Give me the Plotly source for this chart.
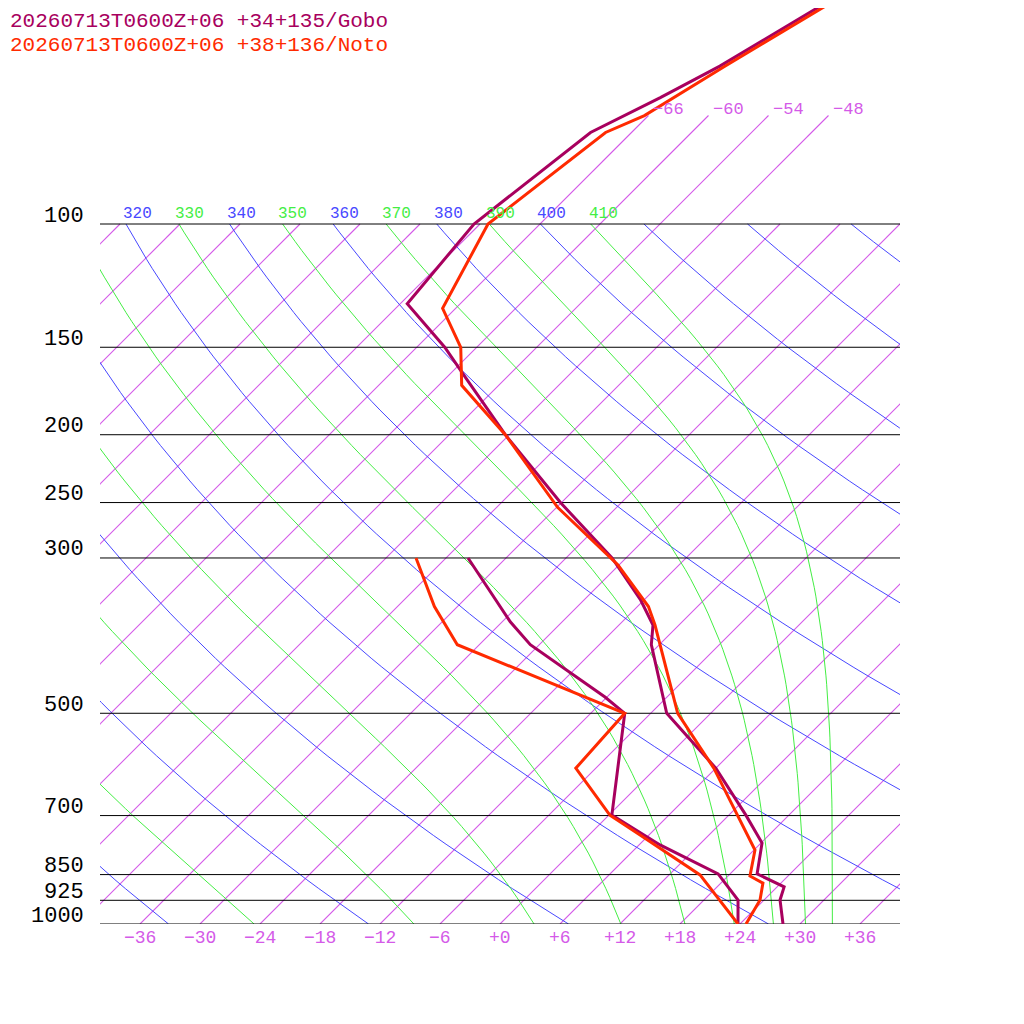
import numpy as np
import plotly.graph_objects as go

# Soundings (pressure hPa, temperature degC)
gobo_p = [1000, 924, 885, 848, 766, 699, 599, 500, 399, 374, 344, 300, 250, 200, 166, 150, 130, 100, 74, 66, 59.5, 48]
gobo_t = [28.3, 25.6, 24.7, 20.7, 18.1, 13.7, 6.0, -4.4, -12.8, -14.6, -18.4, -25.4, -36.1, -48.4, -58.0, -63.2, -71.3, -72.6, -70.1, -66.6, -63.8, -59.4]
gobo_dp = [1000, 924, 848, 771, 699, 500, 474, 399, 370, 300]
gobo_td = [23.8, 21.4, 16.8, 8.1, 0.3, -8.6, -12.2, -24.9, -29.2, -39.8]

noto_p = [1000, 924, 874, 854, 784, 599, 500, 374, 352, 307, 254, 200, 170, 150, 132, 100, 74, 70, 59.5, 48]
noto_t = [24.6, 23.6, 22.2, 20.2, 18.1, 5.8, -3.3, -14.4, -16.9, -24.1, -35.9, -48.4, -57.7, -61.6, -67.3, -71.2, -68.6, -66.4, -63.3, -58.9]
noto_dp = [1000, 851, 746, 699, 599, 500, 399, 352, 300]
noto_td = [23.8, 15.1, 5.1, 0.1, -8.0, -8.6, -32.2, -38.3, -45.0]

isobars = [100, 150, 200, 250, 300, 500, 700, 850, 925, 1000]
bottom_ticks = [-36, -30, -24, -18, -12, -6, 0, 6, 12, 18, 24, 30, 36]
isotherms = list(range(-120, 40, 6))
upper_isotherms = [-66, -60, -54, -48]
dry_thetas = list(range(200, 620, 20))
dry_labels = [320, 340, 360, 380, 400]
moist_thetas = list(range(250, 430, 20))
moist_labels = [310, 330, 350, 370, 390, 410]

SKEW = 70.0
MAG = "rgb(212,90,232)"
BLUE = "#4848ff"
GREEN = "#44ee44"
GOBO = "#a8005e"
NOTO = "#ff2a00"
MONO = "Liberation Mono"

def X(t, p):
    return np.asarray(t, float) + SKEW * np.log10(1000.0 / np.asarray(p, float))

fig = go.Figure()
def line(x, y, color, w=1.0):
    fig.add_trace(go.Scatter(x=list(x), y=list(y), mode="lines", line=dict(color=color, width=w),
                             hoverinfo="skip", showlegend=False))

pp = np.logspace(3, 2, 80)
for T in isotherms:
    ptop = 10 ** (3 - 1.155) if T in upper_isotherms else 100
    ps = np.array([1000.0, ptop])
    line(X([T, T], ps), ps, MAG, 1.1)
for th in dry_thetas:
    T = th * (pp / 1000) ** 0.2857 - 273.15
    line(X(T, pp), pp, BLUE, 1)
def theta_e(Tk, p):
    es = 6.112 * np.exp(17.67 * (Tk - 273.15) / (Tk - 29.65))
    r = 622 * es / np.maximum(p - es, 1e-3)
    return Tk * (1000 / p) ** (0.2854 * (1 - 0.00028 * r)) * np.exp((3.376 / Tk - 0.00254) * r * (1 + 0.00081 * r))
for te in moist_thetas:
    lo = np.full_like(pp, 150.0); hi = np.full_like(pp, 330.0)
    for _ in range(60):
        mid = 0.5 * (lo + hi)
        f = theta_e(mid, pp) > te
        hi = np.where(f, mid, hi); lo = np.where(f, lo, mid)
    T = 0.5 * (lo + hi) - 273.15
    line(X(T, pp), pp, GREEN, 1)
for p in isobars:
    line([-40, 40], [p, p], "black", 1)

line(X(gobo_td, gobo_dp), gobo_dp, GOBO, 3)
line(X(gobo_t, gobo_p), gobo_p, GOBO, 3)
line(X(noto_td, noto_dp), noto_dp, NOTO, 3)
line(X(noto_t, noto_p), noto_p, NOTO, 3)

ann = []
for p in isobars:
    ann.append(dict(x=-40, y=np.log10(p), text=str(p), showarrow=False, xanchor="right", xshift=-14,
                    yshift=8, font=dict(family=MONO, size=22, color="black")))
for t in bottom_ticks:
    ann.append(dict(x=t, y=3, text=("+%d" % t if t >= 0 else "\u2212%d" % -t), showarrow=False,
                    yanchor="top", yshift=-2, font=dict(family=MONO, size=18, color=MAG)))
for t in upper_isotherms:
    ann.append(dict(x=t + SKEW * 1.155, y=3 - 1.155, text="\u2212%d" % -t, showarrow=False, xanchor="left",
                    xshift=2, yshift=6, font=dict(family=MONO, size=17, color=MAG)))
for th in dry_labels:
    T = th * 0.1 ** 0.2857 - 273.15
    ann.append(dict(x=T + SKEW, y=2, text=str(th), showarrow=False, xanchor="left", yanchor="bottom",
                    xshift=-5, yshift=-1, font=dict(family=MONO, size=16, color=BLUE)))
for th in moist_labels:
    T = th * 0.1 ** 0.2857 - 273.15
    ann.append(dict(x=T + SKEW, y=2, text=str(th), showarrow=False, xanchor="left", yanchor="bottom",
                    xshift=-5, yshift=-1, font=dict(family=MONO, size=16, color=GREEN)))
ann.append(dict(xref="paper", yref="paper", x=-92/800, y=1.0, xanchor="left", yanchor="top", yshift=0,
                text="20260713T0600Z+06 +34+135/Gobo", showarrow=False, font=dict(family=MONO, size=21, color=GOBO)))
ann.append(dict(xref="paper", yref="paper", x=-92/800, y=1.0, xanchor="left", yanchor="top", yshift=-24,
                text="20260713T0600Z+06 +38+136/Noto", showarrow=False, font=dict(family=MONO, size=21, color=NOTO)))

fig.update_layout(width=1016, height=1016, margin=dict(l=92, r=124, t=0, b=100),
                  plot_bgcolor="white", paper_bgcolor="white", annotations=ann,
                  xaxis=dict(range=[-40, 40], visible=False, showgrid=False),
                  yaxis=dict(type="log", range=[3, 3 - 916 / 700], visible=False, showgrid=False))
fig.write_html("out.html")
